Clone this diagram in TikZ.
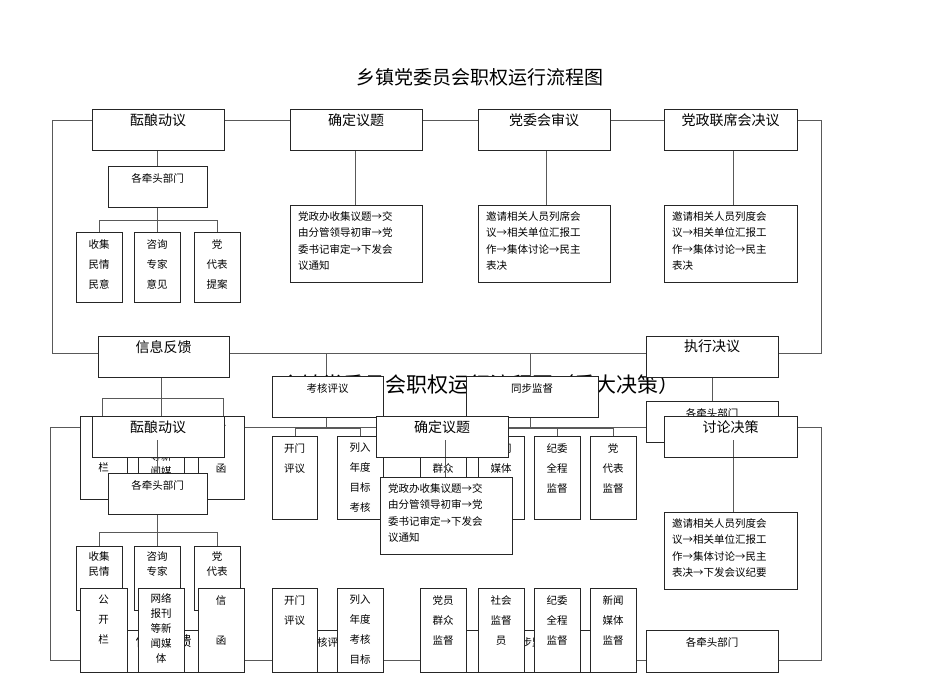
\documentclass[tikz,border=0pt]{standalone}
\usepackage{fontspec}
\setmainfont{Noto Sans CJK SC}
\begin{document}
\begin{tikzpicture}[x=1pt,y=-1pt,
  ln/.style={draw=black!65,line width=0.7pt},
  bxs/.style={draw=black!85,line width=0.8pt,fill=white}]
\useasboundingbox (0,0) rectangle (950,672);
\newcommand\BB[6]{\draw[bxs] (#2,#3) rectangle (#4,#5);
  \node[anchor=north,font=\fontsize{14}{16}\selectfont,inner sep=0] (#1) at ({(#2+#4)/2},#3+4) {#6};}
\newcommand\SB[6]{\draw[bxs] (#2,#3) rectangle (#4,#5);
  \node[anchor=north,font=\fontsize{10.5}{20}\selectfont,align=center,inner sep=0] (#1) at ({(#2+#4)/2},#3+7) {#6};}
\newcommand\TB[6]{\draw[bxs] (#2,#3) rectangle (#4,#5);
  \node[anchor=north,font=\fontsize{10.5}{15}\selectfont,align=center,inner sep=0] (#1) at ({(#2+#4)/2},#3+5) {#6};}
\newcommand\PB[6]{\draw[bxs] (#2,#3) rectangle (#4,#5);
  \node[anchor=north west,font=\fontsize{10.5}{16.5}\selectfont,align=left,inner sep=0] (#1) at (#2+8,#3+6) {#6};}
% ---------- layer 1 ----------
\node[font=\fontsize{19}{21}\selectfont] (t1) at (480,77) {乡镇党委员会职权运行流程图};
\draw[ln] (92,120) -- (52,120) -- (52,353) -- (98,353);
\draw[ln] (224,120) -- (290,120) (422,120) -- (478,120) (610,120) -- (664,120);
\draw[ln] (797,120) -- (821,120) -- (821,353) -- (778,353);
\draw[ln] (229,353) -- (646,353);
\draw[ln] (157,140) -- (157,166) (157,207) -- (157,220) (99,232) |- (217,220) -- (217,232) (157,220) -- (157,232);
\draw[ln] (355,140) -- (355,205) (546,140) -- (546,205) (733,140) -- (733,205);
\BB{a1}{92}{109}{224}{150}{酝酿动议}
\BB{a2}{290}{109}{422}{150}{确定议题}
\BB{a3}{478}{109}{610}{150}{党委会审议}
\BB{a4}{664}{109}{797}{150}{党政联席会决议}
\SB{b0}{108}{166}{207}{207}{各牵头部门}
\SB{b1}{76}{232}{122}{302}{收集\\民情\\民意}
\SB{b2}{134}{232}{180}{302}{咨询\\专家\\意见}
\SB{b3}{194}{232}{240}{302}{党\\代表\\提案}
\PB{p1}{290}{205}{422}{282}{党政办收集议题→交\\由分管领导初审→党\\委书记审定→下发会\\议通知}
\PB{p2}{478}{205}{610}{282}{邀请相关人员列席会\\议→相关单位汇报工\\作→集体讨论→民主\\表决}
\PB{p3}{664}{205}{797}{282}{邀请相关人员列度会\\议→相关单位汇报工\\作→集体讨论→民主\\表决}
% ---------- layer 2 lines ----------
\draw[ln] (161,377) -- (161,398) (102,416) |- (223,398) -- (223,416) (161,398)--(161,416);
\draw[ln] (326,353) -- (326,376) (326,417) -- (326,428) (295,436) |- (360,428) -- (360,436);
\draw[ln] (530,353) -- (530,376) (530,417) -- (530,428) (443,436) |- (613,428) -- (613,436) (501,428)--(501,436) (557,428)--(557,436);
\draw[ln] (712,377) -- (712,401);
\draw[ln] (92,427) -- (50,427) -- (50,660) -- (98,660);
\draw[ln] (224,427) -- (376,427) (508,427) -- (664,427);
\draw[ln] (797,427) -- (821,427) -- (821,660) -- (778,660);
\draw[ln] (229,660) -- (646,660);
\node[font=\fontsize{21}{23}\selectfont] (t2) at (480,385) {乡镇党委员会职权运行流程图（重大决策）};
% ---------- layer 2 boxes ----------
\SB{c1}{80}{416}{127}{499}{公\\开\\栏}
\TB{c2}{138}{416}{184}{499}{网络\\报刊\\等新\\闻媒\\体}
\SB{c3}{198}{416}{244}{499}{信\\\\函}
\SB{d1}{272}{436}{317}{519}{开门\\评议}
\SB{d2}{337}{436}{383}{519}{列入\\年度\\目标\\考核}
\SB{e1}{420}{436}{466}{519}{党员\\群众\\监督}
\SB{e2}{478}{436}{524}{519}{新闻\\媒体\\监督}
\SB{e3}{534}{436}{580}{519}{纪委\\全程\\监督}
\SB{e4}{590}{436}{636}{519}{党\\代表\\监督}
\BB{f1}{98}{336}{229}{377}{信息反馈}
\BB{f2}{646}{336}{778}{377}{执行决议}
\SB{f3}{272}{376}{383}{417}{考核评议}
\SB{f4}{466}{376}{598}{417}{同步监督}
\SB{f5}{646}{401}{778}{442}{各牵头部门}
\draw[ln] (157,447) -- (157,473) (157,514) -- (157,532) (99,546) |- (217,532) -- (217,546) (157,532)--(157,546);
\draw[ln] (445,447) -- (445,477) (733,447) -- (733,512);
\BB{g1}{92}{416}{224}{457}{酝酿动议}
\BB{g2}{376}{416}{508}{457}{确定议题}
\BB{g3}{664}{416}{797}{457}{讨论决策}
\draw[ln] (157,440) -- (157,457) (445,440) -- (445,457) (733,440) -- (733,457);
\SB{g4}{108}{473}{207}{514}{各牵头部门}
\PB{g5}{380}{477}{512}{554}{党政办收集议题→交\\由分管领导初审→党\\委书记审定→下发会\\议通知}
\PB{g6}{664}{512}{797}{589}{邀请相关人员列度会\\议→相关单位汇报工\\作→集体讨论→民主\\表决→下发会议纪要}
\TB{h1}{76}{546}{122}{610}{收集\\民情}
\TB{h2}{134}{546}{180}{610}{咨询\\专家}
\TB{h3}{194}{546}{240}{610}{党\\代表}
\BB{i1}{98}{630}{229}{672}{信息反馈}
\SB{i2}{272}{630}{383}{672}{考核评议}
\SB{i3}{466}{630}{598}{672}{同步监督}
\SB{i4}{646}{630}{778}{672}{各牵头部门}
\SB{j1}{80}{588}{127}{672}{公\\开\\栏}
\TB{j2}{138}{588}{184}{672}{网络\\报刊\\等新\\闻媒\\体}
\SB{j3}{198}{588}{244}{672}{信\\\\函}
\SB{k1}{272}{588}{317}{672}{开门\\评议}
\SB{k2}{337}{588}{383}{672}{列入\\年度\\考核\\目标}
\SB{k3}{420}{588}{466}{672}{党员\\群众\\监督}
\SB{k4}{478}{588}{524}{672}{社会\\监督\\员}
\SB{k5}{534}{588}{580}{672}{纪委\\全程\\监督}
\SB{k6}{590}{588}{636}{672}{新闻\\媒体\\监督}
\end{tikzpicture}
\end{document}
